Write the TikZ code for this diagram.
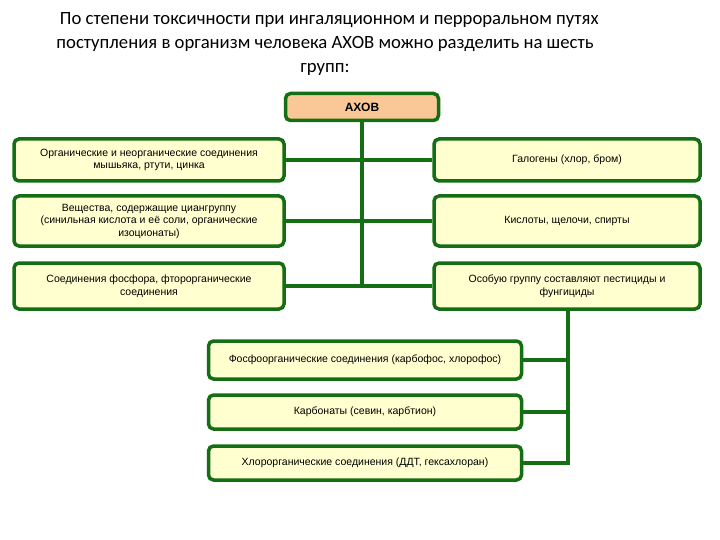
\documentclass[tikz,border=0pt]{standalone}
\usepackage{fontspec}
\setmainfont{Liberation Sans}
\newfontfamily\titlefont{Carlito}
\definecolor{gr}{RGB}{20,110,20}
\definecolor{fillY}{RGB}{255,255,208}
\definecolor{peach}{RGB}{250,200,150}
\begin{document}
\begin{tikzpicture}[x=1pt,y=-1pt,
 box/.style={draw=gr,line width=3.5pt,fill=fillY,rounded corners=5pt,inner sep=0pt,align=center,font=\fontsize{10.5}{12.5}\selectfont},
 ln/.style={draw=gr,line width=3.5pt}]
\useasboundingbox (0,0) rectangle (720,540);
\node[font=\titlefont\fontsize{18.7}{24}\selectfont,align=center] (t) at (325,44) {\ \ По степени токсичности при ингаляционном и перроральном путях\\поступления в организм человека АХОВ можно разделить на шесть\\групп:};
\node[box,fill=peach,minimum width=153pt,minimum height=27pt,font=\bfseries\fontsize{12}{14}\selectfont] (a) at (362,107) {АХОВ};
\node[box,minimum width=270pt,minimum height=42pt] (l1) at (149,160) {Органические и неорганические соединения\\мышьяка, ртути, цинка};
\node[box,minimum width=270pt,minimum height=50pt] (l2) at (149,221) {Вещества, содержащие циангруппу\\(синильная кислота и её соли, органические\\изоционаты)};
\node[box,minimum width=270pt,minimum height=46pt] (l3) at (149,286) {Соединения фосфора, фторорганические\\соединения};
\node[box,minimum width=266pt,minimum height=42pt] (r1) at (567,160) {Галогены (хлор, бром)};
\node[box,minimum width=266pt,minimum height=50pt] (r2) at (567,221) {Кислоты, щелочи, спирты};
\node[box,minimum width=266pt,minimum height=46pt] (r3) at (567,286) {Особую группу составляют пестициды и\\фунгициды};
\node[box,minimum width=313pt,minimum height=38pt] (b1) at (365,360) {Фосфоорганические соединения (карбофос, хлорофос)};
\node[box,minimum width=313pt,minimum height=34pt] (b2) at (365,412) {Карбонаты (севин, карбтион)};
\node[box,minimum width=313pt,minimum height=34pt] (b3) at (365,463) {Хлорорганические соединения (ДДТ, гексахлоран)};
\coordinate (c3) at (362,286);
\coordinate (rb) at (568,463);
\draw[ln] (a.south) -- (c3);
\draw[ln] (l1.east) -- (r1.west);
\draw[ln] (l2.east) -- (r2.west);
\draw[ln] (l3.east) -- (r3.west);
\draw[ln] (b1.east) -- (b1.east -| rb);
\draw[ln] (b2.east) -- (b2.east -| rb);
\draw[ln,line join=miter] (b3.east) -- (rb) -- (r3.south -| rb);
\end{tikzpicture}
\end{document}
